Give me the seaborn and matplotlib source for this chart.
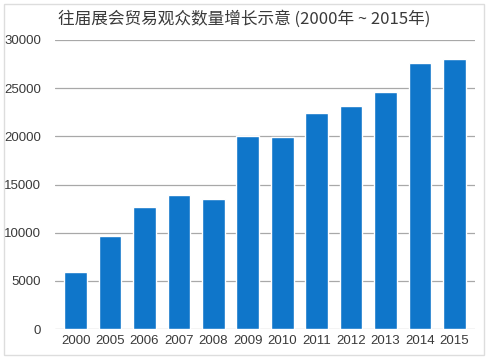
import matplotlib
matplotlib.use("Agg")
import matplotlib.pyplot as plt
import seaborn as sns
import pandas as pd
from matplotlib.patches import Rectangle

years = ["2000", "2005", "2006", "2007", "2008", "2009", "2010", "2011", "2012", "2013", "2014", "2015"]
visitors = [5900, 9650, 12650, 13900, 13500, 20000, 19950, 22400, 23150, 24600, 27600, 28000]
yticks = [0, 5000, 10000, 15000, 20000, 25000, 30000]
title = "往届展会贸易观众数量增长示意 (2000年 ~ 2015年)"

sns.set_theme(style="white")
plt.rcParams['font.family'] = ['Noto Sans CJK SC', 'DejaVu Sans']

df = pd.DataFrame({"year": years, "visitors": visitors})

fig = plt.figure(figsize=(4.9, 3.61), dpi=100)
ax = fig.add_axes([55/490, 1 - 329/361, 420/490, 289/361])

sns.barplot(data=df, x="year", y="visitors", color="#0F76CA", saturation=1,
            width=0.66, ax=ax, zorder=3)

ax.set_ylim(0, 30000)
ax.set_yticks(yticks)
ax.set_yticklabels([str(t) for t in yticks])
ax.yaxis.grid(True, color="#a8a8a8", linewidth=0.9, zorder=0)
ax.set_axisbelow(True)
for s in ax.spines.values():
    s.set_visible(False)
ax.set_xlabel("")
ax.set_ylabel("")
ax.tick_params(axis="both", length=0, labelsize=9.5, colors="#3a3a3a")
for lab in ax.get_xticklabels() + ax.get_yticklabels():
    lab.set_family(['Liberation Sans', 'DejaVu Sans'])
ax.tick_params(axis="y", pad=10)
ax.tick_params(axis="x", pad=4)
ax.set_xlim(-0.6, 11.6)

fig.text(244/490, 1 - 19/361, title, ha="center", va="center", fontsize=12,
         color="#3a3a3a", weight="medium")

fig.patches.append(Rectangle((4/490, 1 - 355/361), 480/490, 351/361, transform=fig.transFigure,
                             fill=False, edgecolor="#dddddd", linewidth=1))

fig.savefig("out.png", dpi=100)
